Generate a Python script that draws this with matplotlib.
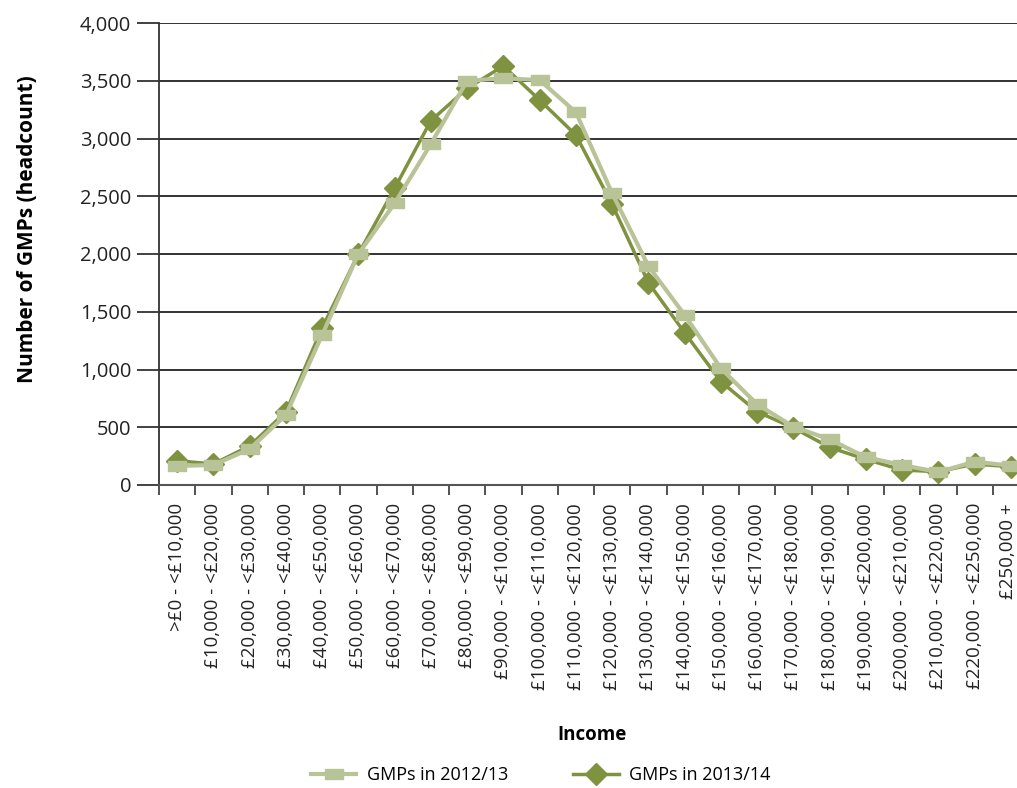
import matplotlib

matplotlib.use("Agg")
import matplotlib.pyplot as plt  # noqa: E402
from matplotlib.path import Path  # noqa: E402
from matplotlib.transforms import ScaledTranslation  # noqa: E402
import numpy as np  # noqa: E402

plt.rcParams["font.family"] = ["Open Sans", "DejaVu Sans"]

# income bands (x categories)
bands = [
    ">£0 - <£10,000", "£10,000 - <£20,000", "£20,000 - <£30,000",
    "£30,000 - <£40,000", "£40,000 - <£50,000", "£50,000 - <£60,000",
    "£60,000 - <£70,000", "£70,000 - <£80,000", "£80,000 - <£90,000",
    "£90,000 - <£100,000", "£100,000 - <£110,000", "£110,000 - <£120,000",
    "£120,000 - <£130,000", "£130,000 - <£140,000", "£140,000 - <£150,000",
    "£150,000 - <£160,000", "£160,000 - <£170,000", "£170,000 - <£180,000",
    "£180,000 - <£190,000", "£190,000 - <£200,000", "£200,000 - <£210,000",
    "£210,000 - <£220,000", "£220,000 - <£250,000", "£250,000 +",
]
# headcounts
gmps_2012 = [165, 173, 312, 606, 1299, 2000, 2439, 2952, 3500, 3521, 3506, 3227,
             2526, 1896, 1472, 1010, 699, 505, 395, 240, 173, 112, 202, 167]
gmps_2013 = [210, 182, 338, 632, 1360, 2000, 2569, 3154, 3434, 3628, 3333, 3030,
             2430, 1752, 1319, 895, 635, 495, 326, 222, 130, 115, 182, 158]

LIGHT = "#b9c398"
DARK = "#7f923f"

# flattened square marker as used in the original
rect = Path([(-1, -0.55), (1, -0.55), (1, 0.55), (-1, 0.55), (-1, -0.55)],
            [Path.MOVETO, Path.LINETO, Path.LINETO, Path.LINETO, Path.CLOSEPOLY])

fig = plt.figure(figsize=(10.17, 7.88), dpi=100)
ax = fig.add_axes([159 / 1017, 1 - 485 / 788, (1029 - 159) / 1017, (485 - 23) / 788])

x = np.arange(len(bands))
ax.plot(x, gmps_2012, color=LIGHT, lw=3, marker=rect, ms=13, mec=LIGHT, mfc=LIGHT,
        label="GMPs in 2012/13", zorder=3)
ax.plot(x, gmps_2013, color=DARK, lw=2.5, marker="D", ms=11.5, mec=DARK, mfc=DARK,
        label="GMPs in 2013/14", zorder=2)

ax.set_xlim(-0.5, len(bands) - 0.5)
ax.set_ylim(0, 4000)
ax.set_yticks(np.arange(0, 4001, 500))
ax.yaxis.set_major_formatter(matplotlib.ticker.FuncFormatter(lambda v, _: f"{int(v):,}"))
ax.grid(axis="y", color="#222222", lw=1.3)
ax.set_axisbelow(True)

ax.set_xticks(x)
ax.set_xticklabels(bands, rotation=90, va="top", ha="center")
ax.set_xticks(np.arange(-0.5, len(bands)), minor=True)
ax.tick_params(axis="x", which="major", length=0, pad=13, labelsize=13.5, colors="#222222")
ax.tick_params(axis="x", which="minor", length=7.5, width=1.3, color="#444444")
ax.tick_params(axis="y", length=16, width=1.3, pad=4, labelsize=14.5, colors="#222222",
               color="#333333")
# the last label sits right at the figure edge; nudge it in a little
last = ax.get_xticklabels()[-1]
last.set_transform(last.get_transform() + ScaledTranslation(-3 / 100, 0, fig.dpi_scale_trans))

for side in ("top", "right"):
    ax.spines[side].set_visible(False)
ax.spines["left"].set_color("#333333")
ax.spines["left"].set_linewidth(1.3)
ax.spines["bottom"].set_color("#555555")
ax.spines["bottom"].set_linewidth(1.5)

ax.set_ylabel("Number of GMPs (headcount)", fontsize=15, fontweight="bold")
ax.yaxis.set_label_coords(-0.139, 0.554)
fig.text(592 / 1017, 1 - 735 / 788, "Income", fontsize=13.5, fontweight="bold",
         ha="center", va="center")

fig.legend(loc="center", bbox_to_anchor=(541 / 1017, 1 - 775 / 788), ncol=2, frameon=False,
           fontsize=13, handlelength=2.5, columnspacing=3.6, handletextpad=0.6)

fig.savefig("out.png", dpi=100)
